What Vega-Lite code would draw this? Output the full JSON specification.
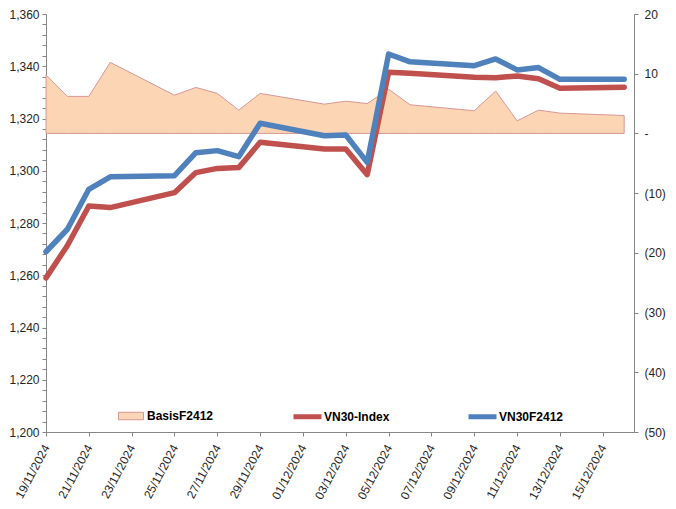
{
  "$schema": "https://vega.github.io/schema/vega-lite/v6.json",
  "autosize": {"type": "none"},
  "width": 588,
  "height": 418,
  "padding": {"left": 46, "top": 14, "right": 42, "bottom": 77},
  "background": "white",
  "config": {
    "view": {"stroke": null},
    "axis": {"labelFont": "Liberation Sans", "labelFontSize": 12, "labelColor": "#262626", "domainColor": "#868686", "tickColor": "#868686", "grid": false, "tickSize": 4, "title": null},
    "legend": {"labelFont": "Liberation Sans", "labelFontSize": 12, "labelFontWeight": "bold", "labelColor": "#000000", "padding": 0, "title": null}
  },
  "data": {"values": [
    {"date": "2024-11-19T00:00:00", "VN30-Index": 1259.0, "VN30F2412": 1269.0, "BasisF2412": 9.8},
    {"date": "2024-11-20T00:00:00", "VN30-Index": 1271.4, "VN30F2412": 1277.6, "BasisF2412": 6.2},
    {"date": "2024-11-21T00:00:00", "VN30-Index": 1286.5, "VN30F2412": 1292.9, "BasisF2412": 6.2},
    {"date": "2024-11-22T00:00:00", "VN30-Index": 1285.9, "VN30F2412": 1297.7, "BasisF2412": 11.9},
    {"date": "2024-11-25T00:00:00", "VN30-Index": 1291.6, "VN30F2412": 1298.1, "BasisF2412": 6.4},
    {"date": "2024-11-26T00:00:00", "VN30-Index": 1299.3, "VN30F2412": 1306.9, "BasisF2412": 7.7},
    {"date": "2024-11-27T00:00:00", "VN30-Index": 1300.9, "VN30F2412": 1307.7, "BasisF2412": 6.7},
    {"date": "2024-11-28T00:00:00", "VN30-Index": 1301.2, "VN30F2412": 1305.4, "BasisF2412": 3.9},
    {"date": "2024-11-29T00:00:00", "VN30-Index": 1310.9, "VN30F2412": 1318.2, "BasisF2412": 6.7},
    {"date": "2024-12-02T00:00:00", "VN30-Index": 1308.3, "VN30F2412": 1313.4, "BasisF2412": 4.9},
    {"date": "2024-12-03T00:00:00", "VN30-Index": 1308.3, "VN30F2412": 1313.7, "BasisF2412": 5.4},
    {"date": "2024-12-04T00:00:00", "VN30-Index": 1298.5, "VN30F2412": 1303.2, "BasisF2412": 5.0},
    {"date": "2024-12-05T00:00:00", "VN30-Index": 1337.7, "VN30F2412": 1344.7, "BasisF2412": 7.4},
    {"date": "2024-12-06T00:00:00", "VN30-Index": 1337.3, "VN30F2412": 1341.7, "BasisF2412": 4.8},
    {"date": "2024-12-09T00:00:00", "VN30-Index": 1335.8, "VN30F2412": 1340.2, "BasisF2412": 3.8},
    {"date": "2024-12-10T00:00:00", "VN30-Index": 1335.6, "VN30F2412": 1342.8, "BasisF2412": 7.1},
    {"date": "2024-12-11T00:00:00", "VN30-Index": 1336.3, "VN30F2412": 1338.6, "BasisF2412": 2.1},
    {"date": "2024-12-12T00:00:00", "VN30-Index": 1335.2, "VN30F2412": 1339.5, "BasisF2412": 3.9},
    {"date": "2024-12-13T00:00:00", "VN30-Index": 1331.6, "VN30F2412": 1335.0, "BasisF2412": 3.4},
    {"date": "2024-12-16T00:00:00", "VN30-Index": 1332.0, "VN30F2412": 1335.0, "BasisF2412": 3.0}
  ]},
  "layer": [
    {
      "mark": {"type": "area", "stroke": "#D99694", "strokeWidth": 1, "opacity": 1},
      "encoding": {
        "x": {
          "field": "date", "type": "temporal",
          "scale": {"domain": [{"year": 2024, "month": 11, "date": 19}, {"year": 2024, "month": 12, "date": 16, "hours": 11}]},
          "axis": {
            "values": [
              {"year": 2024, "month": 11, "date": 19}, {"year": 2024, "month": 11, "date": 21}, {"year": 2024, "month": 11, "date": 23},
              {"year": 2024, "month": 11, "date": 25}, {"year": 2024, "month": 11, "date": 27}, {"year": 2024, "month": 11, "date": 29},
              {"year": 2024, "month": 12, "date": 1}, {"year": 2024, "month": 12, "date": 3}, {"year": 2024, "month": 12, "date": 5},
              {"year": 2024, "month": 12, "date": 7}, {"year": 2024, "month": 12, "date": 9}, {"year": 2024, "month": 12, "date": 11},
              {"year": 2024, "month": 12, "date": 13}, {"year": 2024, "month": 12, "date": 15}
            ],
            "format": "%d/%m/%Y", "labelAngle": -62, "labelPadding": 9, "labelOverlap": false
          }
        },
        "y": {
          "field": "BasisF2412", "type": "quantitative",
          "scale": {"domain": [-50, 20], "nice": false, "zero": false},
          "axis": {"orient": "right", "values": [-50, -40, -30, -20, -10, 0, 10, 20], "labelPadding": 6,
                   "labelExpr": "datum.value == 0 ? '-' : (datum.value < 0 ? '(' + (-datum.value) + ')' : '' + datum.value)"}
        },
        "fill": {
          "datum": "BasisF2412",
          "scale": {"domain": ["BasisF2412"], "range": ["#FCD5B5"]},
          "legend": {"orient": "none", "legendX": 72, "legendY": 389, "symbolType": "M-1,-0.3H1V0.3H-1Z", "symbolSize": 625, "symbolStrokeColor": "#D99694", "symbolStrokeWidth": 1, "labelOffset": 3}
        }
      }
    },
    {
      "transform": [{"fold": ["VN30-Index", "VN30F2412"], "as": ["series", "value"]}],
      "mark": {"type": "line", "strokeWidth": 5.5, "strokeCap": "round", "strokeJoin": "round"},
      "encoding": {
        "x": {"field": "date", "type": "temporal"},
        "y": {
          "field": "value", "type": "quantitative",
          "scale": {"domain": [1200, 1360], "nice": false, "zero": false},
          "axis": {"orient": "left",
                   "values": [1200,1204,1208,1212,1216,1220,1224,1228,1232,1236,1240,1244,1248,1252,1256,1260,1264,1268,1272,1276,1280,1284,1288,1292,1296,1300,1304,1308,1312,1316,1320,1324,1328,1332,1336,1340,1344,1348,1352,1356,1360],
                   "labelExpr": "datum.value % 20 == 0 ? format(datum.value, ',') : ''", "labelPadding": 3}
        },
        "stroke": {
          "field": "series", "type": "nominal",
          "scale": {"domain": ["VN30-Index", "VN30F2412"], "range": ["#C0504D", "#4F81BD"]},
          "legend": {"orient": "none", "direction": "horizontal", "legendX": 245, "legendY": 386, "symbolType": "stroke", "symbolSize": 784, "symbolStrokeWidth": 5, "labelOffset": 0, "columnPadding": 68}
        }
      }
    }
  ],
  "resolve": {"scale": {"y": "independent", "fill": "independent", "stroke": "independent"}}
}
